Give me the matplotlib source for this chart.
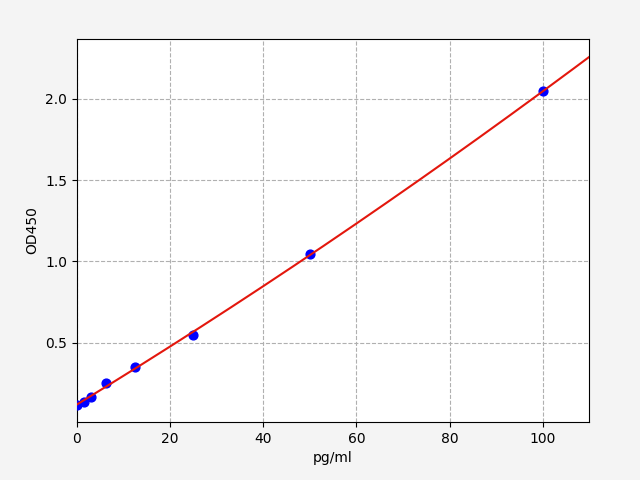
import numpy as np
import matplotlib
matplotlib.use('Agg')
import matplotlib.pyplot as plt

# 标准品浓度 & OD值
conc = [0, 1.5625, 3.125, 6.25, 12.5, 25, 50, 100]
od450 = [0.117, 0.137, 0.164, 0.254, 0.348, 0.547, 1.045, 2.045]

x_max = 110

coef = np.polyfit(conc, od450, 2)
xs = np.linspace(0, x_max, 200)
ys = np.polyval(coef, xs)

fig = plt.figure(figsize=(6.4, 4.8), dpi=100, facecolor='#f4f4f4')
ax = fig.add_axes([0.12, 0.121, 0.801, 0.798])
ax.set_facecolor('white')

ax.scatter(conc, od450, color='blue', s=40, zorder=3)
ax.plot(xs, ys, color='#e3170d', linewidth=1.5, zorder=4)

ax.set_xlim(0, x_max)
ax.set_ylim(0.012, 2.368)
ax.grid(True, linestyle='--', color='#b0b0b0', linewidth=0.8)
ax.set_xlabel('pg/ml')
ax.set_ylabel('OD450')

fig.savefig('out.png', dpi=100, facecolor=fig.get_facecolor())
